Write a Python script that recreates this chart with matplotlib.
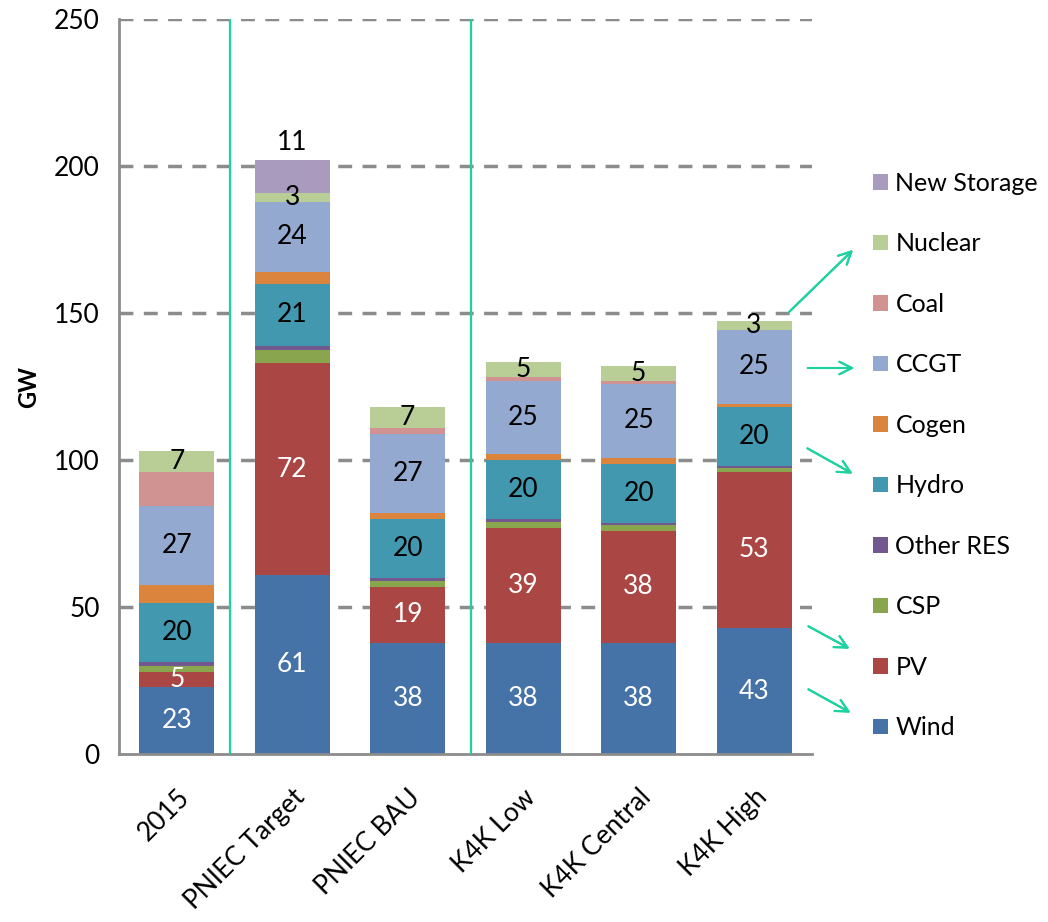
import matplotlib.pyplot as plt
import numpy as np

plt.rcParams['font.family'] = ['Lato', 'DejaVu Sans']

scenarios = ['2015', 'PNIEC Target', 'PNIEC BAU', 'K4K Low', 'K4K Central', 'K4K High']

# installed capacity by technology, GW (stacked bottom to top)
wind = [23, 61, 38, 38, 38, 43]
pv = [5, 72, 19, 39, 38, 53]
csp = [2, 4.5, 2, 2, 2, 1.5]
other_res = [1.5, 1.5, 1, 1, 0.6, 0.6]
hydro = [20, 21, 20, 20, 20, 20]
cogen = [6, 4, 2, 2, 2.3, 1.2]
ccgt = [27, 24, 27, 25, 25, 25]
coal = [11.5, 0, 2, 1.3, 1, 0]
nuclear = [7, 3, 7, 5, 5, 3]
new_storage = [0, 11, 0, 0, 0, 0]

series = [
    ('Wind', wind, '#4572A7', 'white'),
    ('PV', pv, '#AA4643', 'white'),
    ('CSP', csp, '#89A54E', None),
    ('Other RES', other_res, '#71588F', None),
    ('Hydro', hydro, '#4198AF', 'black'),
    ('Cogen', cogen, '#DB843D', None),
    ('CCGT', ccgt, '#93A9CF', 'black'),
    ('Coal', coal, '#D19392', None),
    ('Nuclear', nuclear, '#B9CD96', 'black'),
    ('New Storage', new_storage, '#A99BBD', 'black'),
]

fig = plt.figure(figsize=(10.48, 9.22), dpi=100)
ax = fig.add_axes([0.1136, 0.182, 0.661, 0.797])

x = np.arange(len(scenarios))
bottom = np.zeros(len(scenarios))
handles = []
for name, vals, color, txt_color in series:
    vals = np.array(vals, dtype=float)
    bars = ax.bar(x, vals, 0.65, bottom=bottom, color=color, zorder=2)
    handles.append(bars)
    if txt_color:
        for xi, v, b in zip(x, vals, bottom):
            if v <= 0:
                continue
            if name == 'New Storage':
                # storage label sits just above the stack
                ax.text(xi, b + v + 2, f'{v:.0f}', ha='center', va='bottom',
                        fontsize=19, color=txt_color)
            else:
                ax.text(xi, b + v / 2, f'{v:.0f}', ha='center', va='center',
                        fontsize=19, color=txt_color)
    bottom += vals

# separators between historic, PNIEC and K4K scenarios
for xs in (0.46, 2.55):
    ax.plot([xs, xs], [0, 250], color='#1ED2A0', lw=1.6, zorder=3)

ax.set_xlim(-0.5, 5.5)
ax.set_ylim(0, 250)
ax.set_yticks(range(0, 251, 50))
ax.set_xticks(x)
ax.set_xticklabels(scenarios, rotation=45, ha='right', rotation_mode='anchor')
ax.tick_params(axis='both', labelsize=19, length=0, pad=14)
ax.tick_params(axis='x', pad=22)
for yv in range(50, 251, 50):
    ax.axhline(yv, color='#8C8C8C', lw=2.5, ls=(0, (4, 3)), zorder=1)
for s in ('top', 'right'):
    ax.spines[s].set_visible(False)
for s in ('left', 'bottom'):
    ax.spines[s].set_color('#8C8C8C')
    ax.spines[s].set_linewidth(2)
ax.set_ylabel('GW', fontsize=17, fontweight='bold', labelpad=10)

leg = fig.legend(handles[::-1], [s[0] for s in series][::-1],
                 loc='upper left', bbox_to_anchor=(0.812, 0.838),
                 frameon=False, fontsize=18, handlelength=0.58, handleheight=0.58,
                 handletextpad=0.3, labelspacing=1.5)

# arrows pointing from K4K High to the legend entries
arrows = [((787, 314), (855, 248)),
          ((805, 368), (857, 368)),
          ((805, 447), (855, 475)),
          ((806, 625), (852, 650)),
          ((806, 688), (853, 714))]
W, H = 1048, 922
for (x0, y0), (x1, y1) in arrows:
    fig.add_artist(plt.annotate('', xy=(x1 / W, 1 - y1 / H), xytext=(x0 / W, 1 - y0 / H),
                                xycoords='figure fraction', textcoords='figure fraction',
                                arrowprops=dict(arrowstyle='->,head_length=0.9,head_width=0.45',
                                                color='#1ED2A0', lw=1.5)))

fig.savefig('out.png', dpi=100)
